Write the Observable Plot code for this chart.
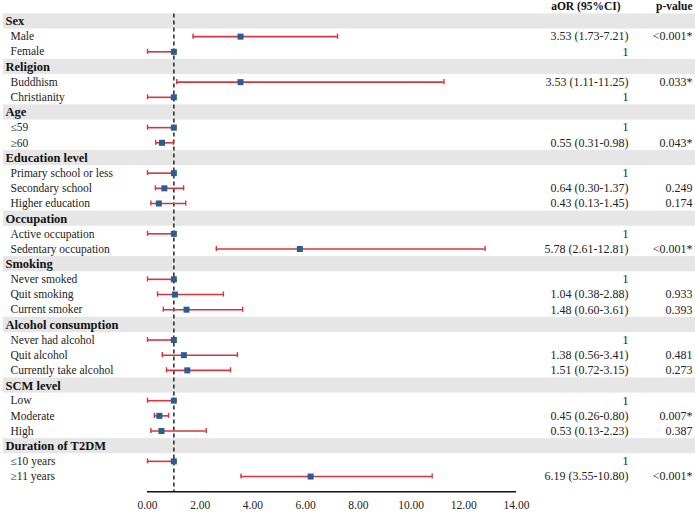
<!DOCTYPE html>
<html>
<head>
<meta charset="utf-8">
<script src="https://cdn.jsdelivr.net/npm/d3@7"></script>
<script src="https://cdn.jsdelivr.net/npm/@observablehq/plot@0.6"></script>
<style>
  html, body { margin: 0; padding: 0; background: #fff; }
</style>
</head>
<body>
<div id="chart"></div>
<script>
// ---- data ----
const variables = ["Sex", "Religion", "Age", "Education level", "Occupation", "Smoking", "Alcohol consumption", "SCM level", "Duration of T2DM"];
const levels = [
  ["Male", "Female"],
  ["Buddhism", "Christianity"],
  ["≤59", "≥60"],
  ["Primary school or less", "Secondary school", "Higher education"],
  ["Active occupation", "Sedentary occupation"],
  ["Never smoked", "Quit smoking", "Current smoker"],
  ["Never had alcohol", "Quit alcohol", "Currently take alcohol"],
  ["Low", "Moderate", "High"],
  ["≤10 years", "≥11 years"]
];
const isReference = [
  [false, true], [false, true], [true, false], [true, false, false], [true, false],
  [true, false, false], [true, false, false], [true, false, false], [true, false]
];
const aOR = [
  [3.53, 1], [3.53, 1], [1, 0.55], [1, 0.64, 0.43], [1, 5.78],
  [1, 1.04, 1.48], [1, 1.38, 1.51], [1, 0.45, 0.53], [1, 6.19]
];
const ciLow = [
  [1.73, 0], [1.11, 0], [0, 0.31], [0, 0.30, 0.13], [0, 2.61],
  [0, 0.38, 0.60], [0, 0.56, 0.72], [0, 0.26, 0.13], [0, 3.55]
];
const ciHigh = [
  [7.21, 1], [11.25, 1], [1, 0.98], [1, 1.37, 1.45], [1, 12.81],
  [1, 2.88, 3.61], [1, 3.41, 3.15], [1, 0.80, 2.23], [1, 10.80]
];
const pValues = [
  ["<0.001*", ""], ["0.033*", ""], ["", "0.043*"], ["", "0.249", "0.174"], ["", "<0.001*"],
  ["", "0.933", "0.393"], ["", "0.481", "0.273"], ["", "0.007*", "0.387"], ["", "<0.001*"]
];
const xTicks = [0, 2, 4, 6, 8, 10, 12, 14];
const xDomain = [0, 14];
const nullValue = 1;
const columnHeaders = ["aOR (95%CI)", "p-value"];

// ---- build table ----
const rows = [];
let r = 0;
variables.forEach((v, g) => {
  rows.push({row: r++, label: v, header: true});
  levels[g].forEach((lv, j) => {
    const ref = isReference[g][j];
    rows.push({
      row: r++, label: lv, header: false,
      or: aOR[g][j], lo: ciLow[g][j], hi: ciHigh[g][j],
      orText: ref ? "1" : `${aOR[g][j].toFixed(2)} (${ciLow[g][j].toFixed(2)}-${ciHigh[g][j].toFixed(2)})`,
      p: pValues[g][j]
    });
  });
});
const headers = rows.filter(d => d.header);
const items = rows.filter(d => !d.header);
const lastRow = r; // axis baseline row

const red = "#d6363b";
const blue = "#2a5d96";
const cap = 0.17;

const plot = Plot.plot({
  width: 695,
  height: 512,
  marginLeft: 3,
  marginRight: 0,
  marginTop: 5.8,
  marginBottom: 20.8,
  style: {fontFamily: "'Liberation Serif', serif", fontSize: "11.5px", color: "#222", background: "#fff"},
  x: {domain: xDomain, range: [147, 516], axis: null},
  y: {domain: [-1, lastRow], reverse: true, axis: null},
  marks: [
    Plot.rect(headers, {y1: d => d.row - 0.5, y2: d => d.row + 0.5, fill: "#e6e6e6"}),
    Plot.ruleX([nullValue], {y1: -0.5, y2: lastRow, stroke: "#333", strokeWidth: 1.6, strokeDasharray: "4,3"}),
    Plot.ruleY(items, {y: "row", x1: "lo", x2: "hi", stroke: red, strokeWidth: 1.6}),
    Plot.ruleX(items, {x: "lo", y1: d => d.row - cap, y2: d => d.row + cap, stroke: red, strokeWidth: 1.4}),
    Plot.ruleX(items, {x: "hi", y1: d => d.row - cap, y2: d => d.row + cap, stroke: red, strokeWidth: 1.4}),
    Plot.dot(items, {x: "or", y: "row", symbol: "square", r: 3.4, fill: blue}),
    Plot.ruleY([lastRow], {x1: xDomain[0], x2: xDomain[1], stroke: "#111", strokeWidth: 1.6}),
    Plot.axisX({ticks: xTicks, tickFormat: d3.format(".2f"), tickSize: 0, tickPadding: 9, label: null, fontSize: 11.5}),
    Plot.text(headers, {y: "row", text: "label", frameAnchor: "left", dx: 2, textAnchor: "start", fontWeight: "bold", fontSize: 12.5, fill: "#111"}),
    Plot.text(items, {y: "row", text: "label", frameAnchor: "left", dx: 7, textAnchor: "start", fill: "#222"}),
    Plot.text(items, {y: "row", text: "orText", frameAnchor: "right", dx: -67, textAnchor: "end", fontSize: 12, fill: "#222"}),
    Plot.text(items, {y: "row", text: "p", frameAnchor: "right", dx: -3, textAnchor: "end", fontSize: 12, fill: "#222"}),
    Plot.text([columnHeaders[0]], {y: -1, text: d => d, frameAnchor: "right", dx: -75, textAnchor: "end", fontWeight: "bold", fontSize: 11.5, fill: "#111"}),
    Plot.text([columnHeaders[1]], {y: -1, text: d => d, frameAnchor: "right", dx: -3, textAnchor: "end", fontWeight: "bold", fontSize: 11.5, fill: "#111"})
  ]
});
document.getElementById("chart").appendChild(plot);
</script>
</body>
</html>
